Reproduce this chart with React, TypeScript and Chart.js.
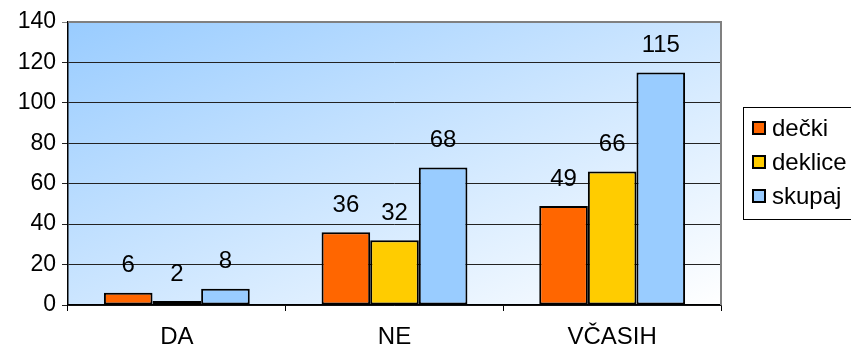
import React, { useEffect, useRef } from "react";
import { Chart, registerables } from "chart.js";

Chart.register(...registerables);

const categories = ["DA", "NE", "VČASIH"];
const seriesNames = ["dečki", "deklice", "skupaj"];
const decki = [6, 36, 49];
const deklice = [2, 32, 66];
const skupaj = [8, 68, 115];
const yTicks = [0, 20, 40, 60, 80, 100, 120, 140];

const colors = ["#FF6600", "#FFCC00", "#99CCFF"];
const FONT = "Liberation Sans, Arial, sans-serif";
const FONT_SIZE = 24;
const Y_FONT_SIZE = 23;

// Diagonal blue-to-white fill behind the plot, plus the grey frame on top/right
const plotBackground = {
  id: "plotBackground",
  beforeDraw(chart: any) {
    const { ctx, chartArea } = chart;
    const { left, top, right, bottom } = chartArea;
    const w = right - left;
    const h = bottom - top;
    ctx.save();
    ctx.translate(left, top);
    ctx.scale(w, h);
    const g = ctx.createLinearGradient(0, 0, 1, 1);
    g.addColorStop(0, "#99CCFF");
    g.addColorStop(1, "#FFFFFF");
    ctx.fillStyle = g;
    ctx.fillRect(0, 0, 1, 1);
    ctx.restore();
  },
  afterDraw(chart: any) {
    const { ctx, chartArea } = chart;
    const { left, top, right, bottom } = chartArea;
    ctx.save();
    ctx.strokeStyle = "#808080";
    ctx.lineWidth = 2;
    ctx.beginPath();
    ctx.moveTo(left, top);
    ctx.lineTo(right, top);
    ctx.lineTo(right, bottom);
    ctx.stroke();
    ctx.restore();
  },
};

// Value printed above every bar
const valueLabels = {
  id: "valueLabels",
  afterDatasetsDraw(chart: any) {
    const { ctx } = chart;
    ctx.save();
    ctx.fillStyle = "#000";
    ctx.font = `${FONT_SIZE}px ${FONT}`;
    ctx.textAlign = "center";
    ctx.textBaseline = "middle";
    chart.data.datasets.forEach((ds: any, i: number) => {
      const meta = chart.getDatasetMeta(i);
      meta.data.forEach((el: any, j: number) => {
        ctx.fillText(String(ds.data[j]), el.x, el.y - 27);
      });
    });
    ctx.restore();
  },
};

// Boxed legend at the right
const boxLegend = {
  id: "boxLegend",
  afterDraw(chart: any) {
    const { ctx } = chart;
    const boxLeft = 743.5;
    const boxTop = 107.5;
    ctx.save();
    ctx.strokeStyle = "#000";
    ctx.lineWidth = 1;
    ctx.strokeRect(boxLeft, boxTop, 120, 112);
    ctx.font = `${FONT_SIZE}px ${FONT}`;
    ctx.textAlign = "left";
    ctx.textBaseline = "middle";
    chart.data.datasets.forEach((ds: any, i: number) => {
      const cy = 128 + i * 34;
      ctx.fillStyle = ds.backgroundColor;
      ctx.fillRect(753, cy - 6, 12, 12);
      ctx.lineWidth = 2;
      ctx.strokeStyle = "#000";
      ctx.strokeRect(753, cy - 6, 12, 12);
      ctx.fillStyle = "#000";
      ctx.fillText(ds.label, 772, cy + 1);
    });
    ctx.restore();
  },
};

export default function App() {
  const canvasRef = useRef<HTMLCanvasElement | null>(null);

  useEffect(() => {
    document.body.style.margin = "0";
    const canvas = canvasRef.current;
    if (!canvas) return;
    const values = [decki, deklice, skupaj];
    const chart = new Chart(canvas, {
      type: "bar",
      data: {
        labels: categories,
        datasets: seriesNames.map((name, i) => ({
          label: name,
          data: values[i],
          backgroundColor: colors[i],
          borderColor: "#000",
          borderWidth: 2,
          borderSkipped: false,
          barPercentage: 1,
          categoryPercentage: 0.67,
        })),
      },
      options: {
        animation: false,
        responsive: false,
        maintainAspectRatio: false,
        layout: { padding: { top: 22, right: 130, left: 0, bottom: 0 } },
        plugins: {
          legend: { display: false },
          tooltip: { enabled: false },
        },
        scales: {
          x: {
            offset: true,
            grid: {
              offset: true,
              drawOnChartArea: false,
              drawTicks: true,
              tickLength: 6,
              color: "#000",
            },
            border: { color: "#000", width: 1.5 },
            ticks: {
              color: "#000",
              font: { family: FONT, size: FONT_SIZE },
              padding: 12,
              maxRotation: 0,
            },
            afterFit: (s: any) => {
              s.height = 46;
            },
          },
          y: {
            min: 0,
            max: 140,
            afterBuildTicks: (s: any) => {
              s.ticks = yTicks.map((v) => ({ value: v }));
            },
            grid: {
              color: (c: any) => (c.tick && c.tick.value === 140 ? "#808080" : "#222"),
              lineWidth: 1,
              drawTicks: true,
              tickLength: 6,
            },
            border: { color: "#000", width: 1.5 },
            ticks: {
              color: "#000",
              font: { family: FONT, size: Y_FONT_SIZE },
              padding: 6,
            },
            afterFit: (s: any) => {
              s.width = 68;
            },
          },
        },
      },
      plugins: [plotBackground, valueLabels, boxLegend],
    });
    return () => chart.destroy();
  }, []);

  return <canvas ref={canvasRef} width={851} height={351} style={{ display: "block" }} />;
}
